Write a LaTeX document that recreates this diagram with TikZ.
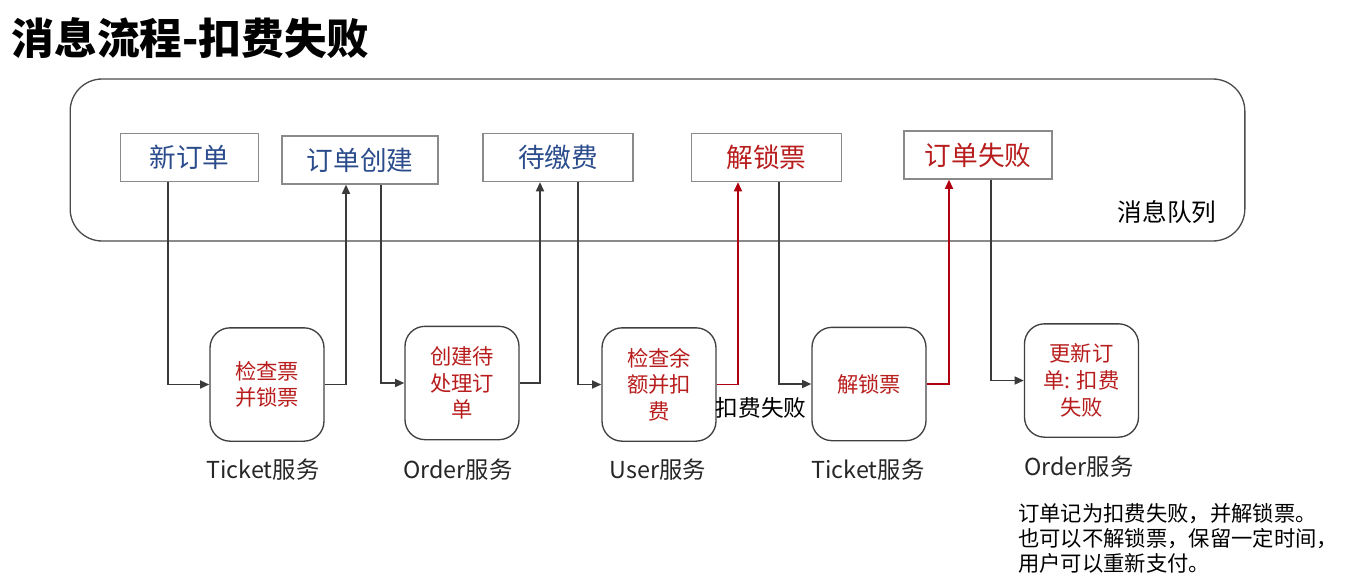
\documentclass[tikz,border=0pt]{standalone}
\usepackage{fontspec}
\setmainfont{Noto Sans CJK SC}
\usetikzlibrary{arrows.meta}
\definecolor{qblue}{HTML}{2B4C8C}
\definecolor{tred}{HTML}{B81D1D}
\definecolor{lred}{HTML}{B00010}
\definecolor{lgray}{HTML}{3A3A3A}
\definecolor{bgray}{HTML}{8A8A8A}
\tikzset{
  qbox/.style={draw=bgray, line width=0.9pt, minimum height=36pt, inner sep=0pt, font=\fontsize{20pt}{24pt}\selectfont},
  sbox/.style={draw=black!75, line width=1pt, rounded corners=15pt, minimum width=85.5pt, minimum height=85pt, inner sep=0pt, align=center, text=tred, font=\fontsize{16pt}{20pt}\selectfont},
  svc/.style={font=\fontsize{17.5pt}{21pt}\selectfont, text=black!85},
  conn/.style={draw=lgray, line width=1.4pt, -{Triangle[length=7pt,width=6pt]}},
  rconn/.style={draw=lred, line width=1.4pt, -{Triangle[length=7pt,width=6pt]}},
}
\begin{document}
\begin{tikzpicture}[x=0.75pt,y=-0.75pt]
\useasboundingbox (0,0) rectangle (1347,585);
\node[anchor=west, font=\bfseries\fontsize{32pt}{36pt}\selectfont] (title) at (7,38) {消息流程-扣费失败};
\node[draw=black!70, line width=1pt, rounded corners=24pt, minimum width=881pt, minimum height=121.5pt, inner sep=0pt] (mq) at (657.5,160) {};
\node[anchor=center, font=\fontsize{18.5pt}{22pt}\selectfont] (mqlabel) at (1167,212) {消息队列};
% queue boxes
\node[qbox, minimum width=104pt, text=qblue] (q1) at (189.5,157.5) {新订单};
\node[qbox, minimum width=117pt, text=qblue] (q2) at (360,160) {订单创建};
\node[qbox, minimum width=112.5pt, text=qblue] (q3) at (558,157.5) {待缴费};
\node[qbox, minimum width=112pt, text=tred] (q4) at (766.5,157.5) {解锁票};
\node[qbox, minimum width=111pt, text=tred] (q5) at (978,155) {订单失败};
% service boxes
\node[sbox] (s1) at (267,384.5) {检查票\\并锁票};
\node[sbox] (s2) at (462,383) {创建待\\处理订\\单};
\node[sbox] (s3) at (659,384.5) {检查余\\额并扣\\费};
\node[sbox] (s4) at (869,384) {解锁票};
\node[sbox] (s5) at (1081.5,380.5) {更新订\\单: 扣费\\失败};
% service labels
\node[svc] (l1) at (263,470) {Ticket服务};
\node[svc] (l2) at (458,470) {Order服务};
\node[svc] (l3) at (658,470) {User服务};
\node[svc] (l4) at (868,470) {Ticket服务};
\node[svc] (l5) at (1079,467) {Order服务};
\node[font=\fontsize{17pt}{21pt}\selectfont] (fail) at (761,408) {扣费失败};
\node[anchor=north west, align=left, inner sep=0pt, font=\fontsize{16pt}{18.9pt}\selectfont] (note) at (1018,503) {订单记为扣费失败，并解锁票。\\也可以不解锁票，保留一定时间，\\用户可以重新支付。};
% x positions of connectors
\coordinate (x1) at (168,0);
\coordinate (x2) at (346,0);
\coordinate (x3) at (381,0);
\coordinate (x4) at (540,0);
\coordinate (x5) at (578,0);
\coordinate (x6) at (738,0);
\coordinate (x7) at (779,0);
\coordinate (x8) at (949,0);
\coordinate (x9) at (991,0);
\draw[conn] (q1.south -| x1) |- (s1.west);
\draw[conn] (s1.east) -| (q2.south -| x2);
\draw[conn] (q2.south -| x3) |- (s2.west);
\draw[conn] (s2.east) -| (q3.south -| x4);
\draw[conn] (q3.south -| x5) |- (s3.west);
\draw[rconn] (s3.east) -| (q4.south -| x6);
\draw[conn] (q4.south -| x7) |- (s4.west);
\draw[rconn] (s4.east) -| (q5.south -| x8);
\draw[conn] (q5.south -| x9) |- (s5.west);
\end{tikzpicture}
\end{document}
